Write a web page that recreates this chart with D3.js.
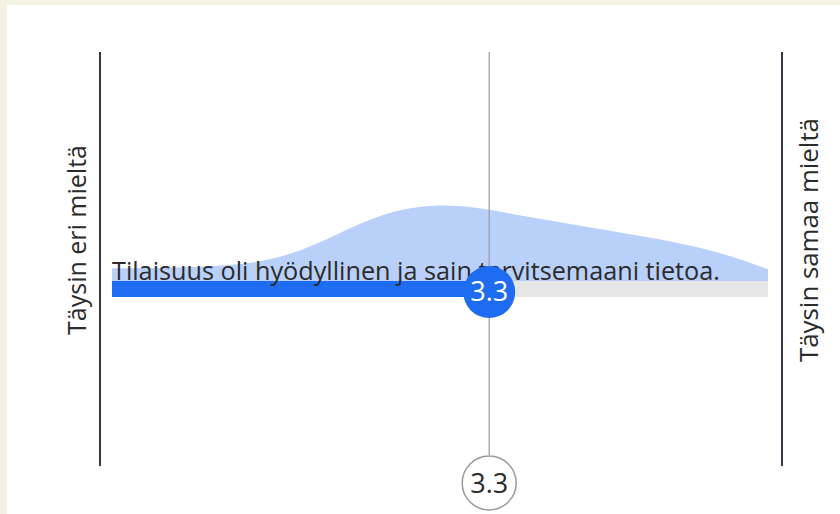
<!DOCTYPE html>
<meta charset="utf-8">
<script src="https://d3js.org/d3.v7.min.js"></script>
<style>
body { margin: 0; background: #f5f1e3; }
text { font-family: "Open Sans", Lato, sans-serif; fill: #2b2b2b; }
</style>
<body>
<script>

// scale ends (1..5) and their labels
var scaleMin = 1, scaleMax = 5;
var leftLabel = "Täysin eri mieltä";
var rightLabel = "Täysin samaa mieltä";

// the question and its mean
var question = "Tilaisuus oli hyödyllinen ja sain tarvitsemaani tietoa.";
var meanValue = 3.3;

// answer distribution (smoothed)
var densityX = [1, 1.25, 1.5, 1.75, 2, 2.25, 2.5, 2.75, 3, 3.25, 3.5, 3.75, 4, 4.25, 4.5, 4.75, 5];
var densityY = [13, 13, 14, 16, 22, 37, 58, 73, 78, 74, 66, 59, 52, 45, 37, 27, 12];

var width = 840, height = 514;

var svg = d3.select("body").append("svg")
    .attr("width", width)
    .attr("height", height);

// shrink/grow a text's font so it spans a given width
function fit(sel, w) {
  var len = sel.node().getComputedTextLength();
  var fs = parseFloat(sel.style("font-size"));
  sel.style("font-size", (fs * w / len).toFixed(2) + "px");
  return sel;
}

// white panel
svg.append("rect")
    .attr("x", 7).attr("y", 5)
    .attr("width", width - 7).attr("height", height - 5)
    .attr("fill", "#fff");

var x = d3.scaleLinear()
    .domain([scaleMin, scaleMax])
    .range([112, 768]);

var barTop = 281, barH = 16;

var y = d3.scaleLinear()
    .domain([0, 78])
    .range([barTop, 204]);

// end lines
svg.append("line")
    .attr("x1", 100).attr("x2", 100)
    .attr("y1", 52).attr("y2", 466)
    .attr("stroke", "#333a45").attr("stroke-width", 2);
svg.append("line")
    .attr("x1", 782).attr("x2", 782)
    .attr("y1", 52).attr("y2", 466)
    .attr("stroke", "#333a45").attr("stroke-width", 2);

// end labels
fit(svg.append("text")
    .attr("transform", "translate(86,240) rotate(-90)")
    .attr("text-anchor", "middle")
    .style("font-size", "22px")
    .text(leftLabel), 190);
fit(svg.append("text")
    .attr("transform", "translate(818,240) rotate(-90)")
    .attr("text-anchor", "middle")
    .style("font-size", "22px")
    .text(rightLabel), 244);

// distribution
var pts = densityX.map(function(d, i) { return [d, densityY[i]]; });
var area = d3.area()
    .x(function(d) { return x(d[0]); })
    .y0(barTop)
    .y1(function(d) { return y(d[1]); })
    .curve(d3.curveBasis);

svg.append("path")
    .datum(pts)
    .attr("d", area)
    .attr("fill", "#b9d0fa");

// bar: grey track + blue fill to mean
svg.append("rect")
    .attr("x", x(scaleMin)).attr("y", barTop)
    .attr("width", x(scaleMax) - x(scaleMin)).attr("height", barH)
    .attr("fill", "#e6e6e6");
svg.append("rect")
    .attr("x", x(scaleMin)).attr("y", barTop)
    .attr("width", x(meanValue) - x(scaleMin)).attr("height", barH)
    .attr("fill", "#1d6cf2");

// question text
fit(svg.append("text")
    .attr("x", x(scaleMin))
    .attr("y", barTop - 1)
    .style("font-size", "21px")
    .text(question), 608);

// mean line
svg.append("line")
    .attr("x1", x(meanValue)).attr("x2", x(meanValue))
    .attr("y1", 52).attr("y2", 455)
    .attr("stroke", "#9a9a9a").attr("stroke-width", 1.2);

// mean marker on bar
svg.append("circle")
    .attr("cx", x(meanValue)).attr("cy", barTop + barH / 2 + 3)
    .attr("r", 26)
    .attr("fill", "#1d6cf2");
svg.append("text")
    .attr("x", x(meanValue)).attr("y", barTop + barH / 2 + 12)
    .attr("text-anchor", "middle")
    .style("font-size", "27px")
    .style("fill", "#fff")
    .text(meanValue);

// mean label at bottom
svg.append("circle")
    .attr("cx", x(meanValue)).attr("cy", 483)
    .attr("r", 27)
    .attr("fill", "#fff")
    .attr("stroke", "#9a9a9a").attr("stroke-width", 1.5);
svg.append("text")
    .attr("x", x(meanValue)).attr("y", 493)
    .attr("text-anchor", "middle")
    .style("font-size", "27px")
    .text(meanValue);

</script>
</body>
